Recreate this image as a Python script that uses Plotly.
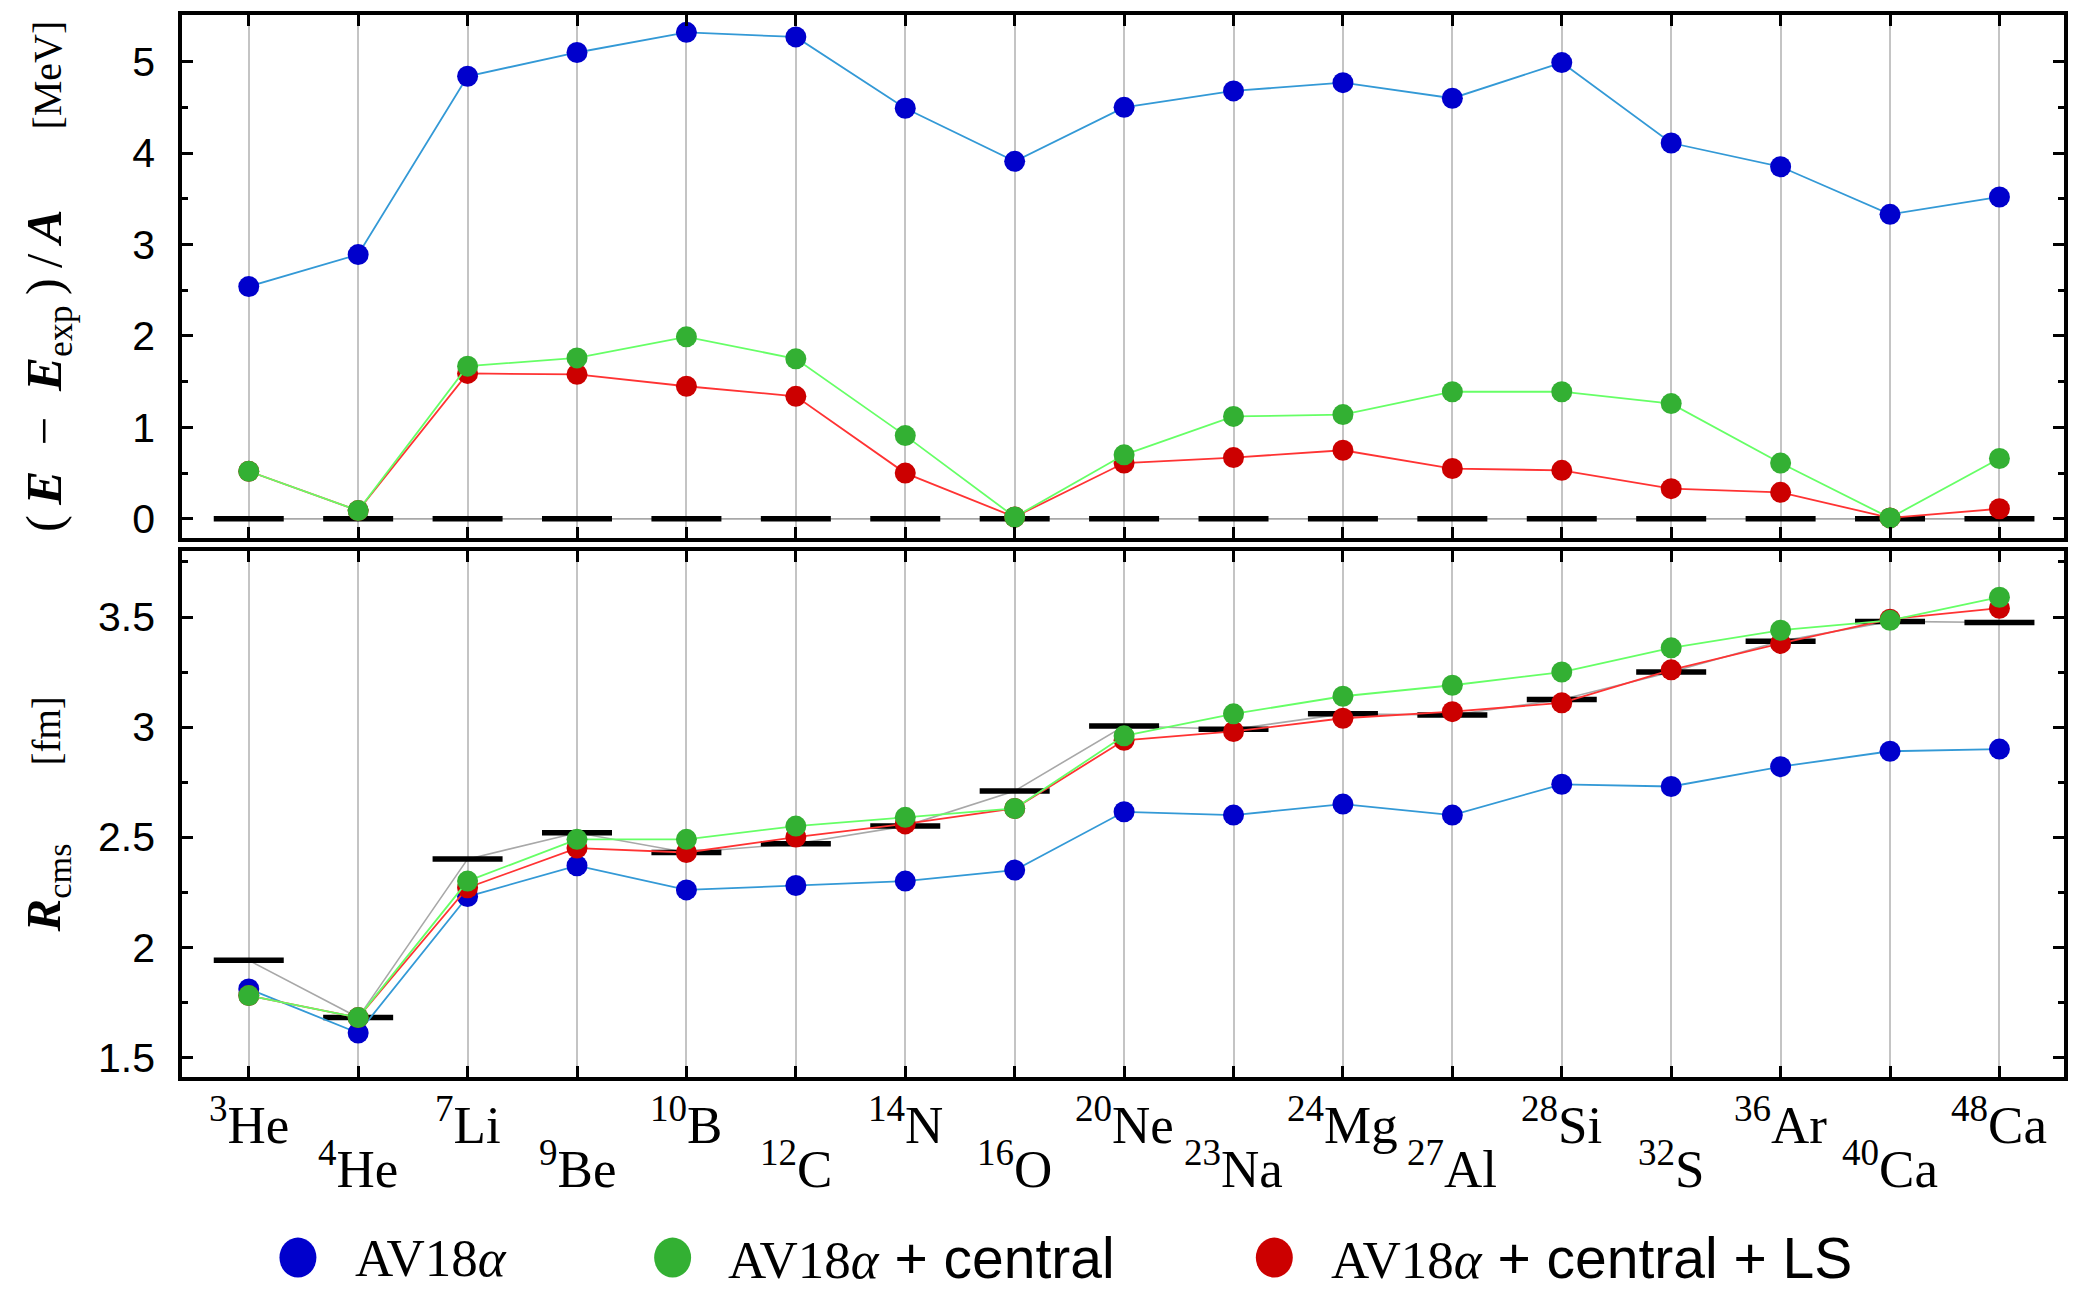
import plotly.graph_objects as go

# ---------------- data ----------------
mass_numbers = [3, 4, 7, 9, 10, 12, 14, 16, 20, 23, 24, 27, 28, 32, 36, 40, 48]
elements = ["He", "He", "Li", "Be", "B", "C", "N", "O", "Ne", "Na", "Mg", "Al", "Si", "S", "Ar", "Ca", "Ca"]

# (E - E_exp)/A  [MeV]
e_av18 = [2.54, 2.89, 4.84, 5.10, 5.32, 5.27, 4.49, 3.91, 4.50, 4.68, 4.77, 4.60, 4.99, 4.11, 3.85, 3.33, 3.52]
e_central = [0.52, 0.09, 1.67, 1.76, 1.99, 1.75, 0.91, 0.02, 0.70, 1.12, 1.14, 1.39, 1.39, 1.26, 0.61, 0.01, 0.66]
e_central_ls = [0.52, 0.09, 1.59, 1.58, 1.45, 1.34, 0.50, 0.02, 0.61, 0.67, 0.75, 0.55, 0.53, 0.33, 0.29, 0.01, 0.11]
e_exp = [0.0, 0.0, 0.0, 0.0, 0.0, 0.0, 0.0, 0.0, 0.0, 0.0, 0.0, 0.0, 0.0, 0.0, 0.0, 0.0, 0.0]

# R_cms [fm]
r_av18 = [1.81, 1.61, 2.23, 2.37, 2.26, 2.28, 2.30, 2.35, 2.615, 2.60, 2.65, 2.60, 2.74, 2.73, 2.82, 2.89, 2.90]
r_central = [1.78, 1.68, 2.30, 2.49, 2.49, 2.55, 2.59, 2.63, 2.96, 3.06, 3.14, 3.19, 3.25, 3.36, 3.44, 3.485, 3.59]
r_central_ls = [1.78, 1.68, 2.27, 2.45, 2.43, 2.50, 2.56, 2.63, 2.94, 2.98, 3.04, 3.07, 3.11, 3.26, 3.38, 3.49, 3.54]
r_exp = [1.94, 1.68, 2.40, 2.52, 2.43, 2.47, 2.55, 2.71, 3.005, 2.99, 3.06, 3.055, 3.125, 3.25, 3.39, 3.48, 3.475]

series_names = ["AV18α", "AV18α + central", "AV18α + central + LS"]
marker_colors = ["#0000CC", "#33B033", "#CC0000"]
line_colors = ["#3399D6", "#66FF66", "#FF3333"]

x_pos = list(range(len(elements)))
labels = [f"<sup>{a}</sup>{s}" for a, s in zip(mass_numbers, elements)]

fig = go.Figure()

def add_panel(exp_vals, av18, central, central_ls, xa, ya):
    fig.add_trace(go.Scatter(
        x=x_pos, y=exp_vals, mode="lines+markers", xaxis=xa, yaxis=ya,
        line=dict(color="#A8A8A8", width=1.6),
        marker=dict(symbol="line-ew", size=50, color="black",
                    line=dict(color="black", width=5.5)),
        showlegend=False, hoverinfo="skip"))
    # draw order: blue, red, green (green on top)
    for vals, idx in ((av18, 0), (central_ls, 2), (central, 1)):
        fig.add_trace(go.Scatter(
            x=x_pos, y=vals, mode="lines+markers", xaxis=xa, yaxis=ya,
            name=series_names[idx],
            line=dict(color=line_colors[idx], width=1.8),
            marker=dict(size=21, color=marker_colors[idx]),
            showlegend=False))

add_panel(e_exp, e_av18, e_central, e_central_ls, "x2", "y2")
add_panel(r_exp, r_av18, r_central, r_central_ls, "x", "y")

xcommon = dict(range=[-0.61, 16.59], tickmode="array", tickvals=x_pos,
               showticklabels=False, ticks="inside", ticklen=11, tickwidth=3,
               tickcolor="black", showline=True, linewidth=3.5, linecolor="black",
               mirror="ticks", showgrid=True, gridcolor="#C4C4C4", gridwidth=1.5,
               zeroline=False)
ycommon = dict(ticks="inside", ticklen=11, tickwidth=3, tickcolor="black",
               showline=True, linewidth=3.5, linecolor="black", mirror="allticks",
               showgrid=False, zeroline=False, ticklabelstandoff=15,
               tickfont=dict(family="Liberation Sans, Arial, sans-serif", size=41, color="black"))

top_dom = [0.5075, 1.0]
bot_dom = [0.0, 0.4953]

fig.update_layout(
    width=2079, height=1294,
    margin=dict(l=182, r=14, t=11, b=217),
    paper_bgcolor="white", plot_bgcolor="white",
    showlegend=False,
    xaxis=dict(**xcommon, domain=[0, 1], anchor="y"),
    xaxis2=dict(**xcommon, domain=[0, 1], anchor="y2", matches="x"),
    yaxis=dict(**ycommon, domain=bot_dom, range=[1.41, 3.80], tick0=1.5, dtick=0.5,
               minor=dict(tick0=1.5, dtick=0.25, ticks="inside", ticklen=6,
                          tickwidth=3, tickcolor="black")),
    yaxis2=dict(**ycommon, domain=top_dom, range=[-0.21, 5.51], tick0=0, dtick=1,
                minor=dict(tick0=0, dtick=0.5, ticks="inside", ticklen=6,
                           tickwidth=3, tickcolor="black")),
)

serif = "Liberation Serif, Times New Roman, serif"
sans = "Liberation Sans, Arial, sans-serif"
ann = []
shapes = []

# y-axis titles
sp = "\u2002"
math_e = (f"(\u2009<b><i>E</i></b>{sp}\u2212{sp}<b><i>E</i></b><sub>exp</sub>"
          f"\u2009)\u2009/\u2009<b><i>A</i></b>")
ann.append(dict(
    text=f'<span style="font-size:51px">{math_e}</span>\u2003\u2003[MeV]',
    xref="paper", yref="paper", x=-0.0715, y=(top_dom[0] + top_dom[1]) / 2,
    xanchor="center", yanchor="middle", textangle=-90, showarrow=False,
    font=dict(family=serif, size=40, color="black")))
ann.append(dict(
    text='<span style="font-size:49px"><b><i>R</i></b><sub>cms</sub></span>\u2003\u2003[fm]',
    xref="paper", yref="paper", x=-0.0715, y=(bot_dom[0] + bot_dom[1]) / 2,
    xanchor="center", yanchor="middle", textangle=-90, showarrow=False,
    font=dict(family=serif, size=39, color="black")))

# staggered nucleus labels
for i, lab in zip(x_pos, labels):
    ann.append(dict(
        text=lab, xref="x", yref="paper", x=i,
        y=-0.041 if i % 2 == 0 else -0.083,
        xanchor="center", yanchor="middle", showarrow=False,
        font=dict(family=serif, size=53, color="black")))

# legend (drawn manually for large symbols)
leg_dot_x = [0.0616, 0.2607, 0.5804]
leg_txt_x = [0.0908, 0.2889, 0.6097]
leg_y = -0.170
dot_w = 37 / 1883
dot_h = 40 / 1066
for name, col, dx, tx in zip(series_names, marker_colors, leg_dot_x, leg_txt_x):
    shapes.append(dict(type="circle", xref="paper", yref="paper",
                       x0=dx - dot_w / 2, x1=dx + dot_w / 2,
                       y0=leg_y - dot_h / 2, y1=leg_y + dot_h / 2,
                       fillcolor=col, line=dict(width=0)))
    head, _, rest = name.partition("α")
    txt = (f'<span style="font-family:Liberation Serif;font-size:53px">{head}<i>α</i></span>'
           f'{rest}')
    ann.append(dict(text=txt, xref="paper", yref="paper", x=tx, y=leg_y,
                    xanchor="left", yanchor="middle", showarrow=False,
                    font=dict(family=sans, size=57, color="black")))

fig.update_layout(annotations=ann, shapes=shapes)
fig.write_html("out.html")
